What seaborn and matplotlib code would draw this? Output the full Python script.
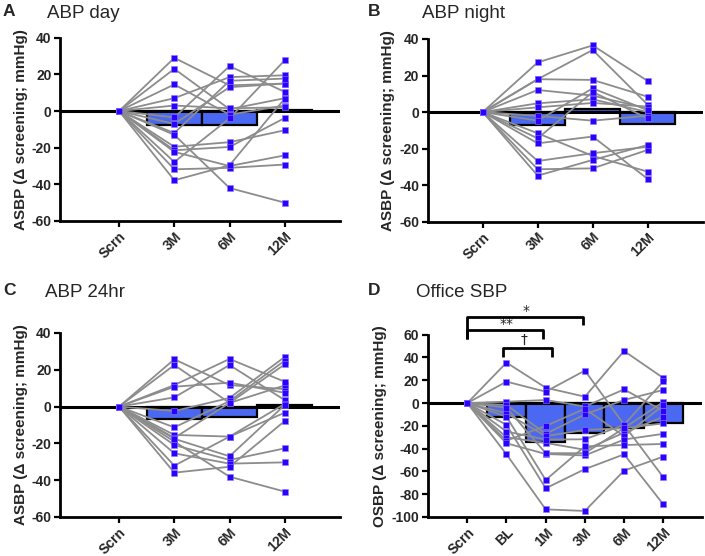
import numpy as np
import pandas as pd
import matplotlib
matplotlib.use("Agg")
import matplotlib.pyplot as plt
import seaborn as sns

sns.set_style("white")
plt.rcParams['font.family'] = ['Liberation Sans', 'DejaVu Sans']

# ---------------- data ----------------
cats_abp = ["Scrn", "3M", "6M", "12M"]
cats_office = ["Scrn", "BL", "1M", "3M", "6M", "12M"]

# group means (bars), for non-screening visits
bars_day = [-7.8, -7.6, 0.8]
bars_night = [-7.0, 1.5, -6.5]
bars_24 = [-6.9, -5.5, 0.9]
bars_office = [-11.8, -34.0, -26.5, -22.0, -17.3]

# individual subjects (values at each visit)
day_subjects = [
    [0, 29, 14, 15], [0, 23, 1, 7], [0, 14.5, -2, 3], [0, 7, 18.5, 19.5],
    [0, 3, 1.5, 2], [0, -3.5, 24.5, 10.4], [0, -7, 13, 15], [0, -12, 16.5, 17.7],
    [0, -13, -42, -50], [0, -19.5, -17, -10.5], [0, -21.4, -19.6, -3.8],
    [0, -22.3, -30, -24.2], [0, -27.8, -4, 27.7], [0, -31.8, -31, -29.2],
    [0, -37.8, -29.6, 6.8],
]
night_subjects = [
    [0, 27.2, 36.5, 17], [0, 18, 34, 4], [0, 18, 17.6, 8.4], [0, 12.1, 9, 2],
    [0, 4.8, 7, 0], [0, 2.6, 5, 3], [0, -2.1, -4.7, -2], [0, -4.7, 13, 1],
    [0, -11.6, -24, -32.6], [0, -14.4, 11, -3.4], [0, -17.1, -13.4, -36.6],
    [0, -26.8, -22.5, -19], [0, -31.3, -30.8, -20.7], [0, -34.8, -26.2, -18],
]
h24_subjects = [
    [0, 25.7, 11.7, 9.5], [0, 22.6, 2, 11.5], [0, 11.7, 25.9, 13.5],
    [0, 10.8, 13, 7.5], [0, 5, 22.6, 3.5], [0, -2.4, 4.7, 27], [0, -11.3, 3, 25],
    [0, -15.4, -16.3, -3.3], [0, -17, 2, 23], [0, -19, -38.1, -46.2],
    [0, -20.9, -29, -22.7], [0, -25.4, -31, -30.3], [0, -32.1, -16.3, 1.5],
    [0, -35.9, -32.7, -7.8], [0, -17.5, -27, 0.9],
]
office_subjects = [
    [0, 35.5, 13.5, 5.6, 45.7, 22], [0, 18.8, 10, 28.5, -19, 19],
    [0, 1.2, 2.7, -3, 12, -7], [0, -1.7, -27, -10, 2.7, 11.5],
    [0, -9, -29, -23.6, -22, 1], [0, -19.2, -74.8, -58, -45, -88.9],
    [0, -30, -35, -41, -26, -12], [0, -33, -20.1, -5, -29, -2],
    [0, -35.3, -44.7, -46, -32, -27], [0, -45, -93.3, -94.7, -59.3, -47],
    [0, -12, -67.5, -38, -36.8, -35.9], [0, -25, -32, -31.8, -19.2, -65.1],
    [0, -4, -44, -44, -22, -17.8],
]

BAR_COLOR = "#4a68f2"
PT_COLOR = "#2a00ff"
LINE_COLOR = "#8c8c8c"

fig = plt.figure(figsize=(7.05, 5.56), dpi=100)
W, H = 705, 556


def px_axes(l, t, r, b):
    return fig.add_axes([l / W, 1 - b / H, (r - l) / W, (b - t) / H])


def draw_panel(ax, cats, subjects, bars, ylim, yticks, ylabel, xlim):
    pos = list(range(len(cats)))
    rows = []
    for si, vals in enumerate(subjects):
        for p, v in zip(pos, vals):
            rows.append({"subject": si, "pos": p, "value": v})
    df = pd.DataFrame(rows)
    bar_df = pd.DataFrame({"pos": pos[1:], "value": bars})

    sns.barplot(data=bar_df, x="pos", y="value", native_scale=True, orient="x",
                width=1.0, color=BAR_COLOR, edgecolor="black", linewidth=1.6,
                errorbar=None, saturation=1, ax=ax, zorder=1)
    ax.axhline(0, color="black", lw=2.2, zorder=2)
    sns.lineplot(data=df, x="pos", y="value", units="subject", estimator=None,
                 color=LINE_COLOR, lw=1.3, sort=False, ax=ax, zorder=3)
    sns.scatterplot(data=df, x="pos", y="value", marker="s", s=18,
                    color=PT_COLOR, edgecolor="#8a7cff", linewidth=0.4,
                    ax=ax, zorder=4)

    ax.set_xlim(*xlim)
    ax.set_ylim(*ylim)
    ax.set_yticks(yticks)
    ax.set_yticklabels([str(t) for t in yticks], fontsize=10, fontweight="bold")
    ax.set_xticks(pos)
    ax.set_xticklabels(cats, rotation=45, ha="right", rotation_mode="anchor",
                       fontsize=10, fontweight="bold")
    ax.set_xlabel("")
    ax.set_ylabel(ylabel, fontsize=11, fontweight="bold", labelpad=3)
    for s in ["top", "right"]:
        ax.spines[s].set_visible(False)
    for s in ["left", "bottom"]:
        ax.spines[s].set_linewidth(2.0)
        ax.spines[s].set_color("black")
    ax.tick_params(axis="both", direction="out", length=4, width=1.6,
                   color="black", pad=2, left=True, bottom=True)
    ax.grid(False)


axA = px_axes(60, 37.7, 340, 221)
draw_panel(axA, cats_abp, day_subjects, bars_day, (-60, 40), list(range(-60, 41, 20)),
           "ASBP (\u0394 screening; mmHg)", (-1.07, 4.0))
axB = px_axes(427.7, 39, 702.7, 221.7)
draw_panel(axB, cats_abp, night_subjects, bars_night, (-60, 40), list(range(-60, 41, 20)),
           "ASBP (\u0394 screening; mmHg)", (-1.0, 4.0))
axC = px_axes(60, 333, 340, 517)
draw_panel(axC, cats_abp, h24_subjects, bars_24, (-60, 40), list(range(-60, 41, 20)),
           "ASBP (\u0394 screening; mmHg)", (-1.07, 4.0))
axD = px_axes(427.7, 334.7, 701.7, 517)
draw_panel(axD, cats_office, office_subjects, bars_office, (-100, 60),
           list(range(-100, 61, 20)), "OSBP (\u0394 screening; mmHg)", (-1.01, 5.98))

# significance brackets (panel D)
def bracket(ax, x0, x1, y, yl0, yl1, label, ty, tx):
    ax.plot([x0, x0, x1, x1], [yl0, y, y, yl1], color="black", lw=2.0,
            clip_on=False, solid_capstyle="butt", zorder=5)
    ax.text(tx, ty, label, ha="center", va="center", fontsize=10,
            clip_on=False, family=["DejaVu Sans"])

bracket(axD, 0, 2.94, 75.3, 56, 68.5, "*", 80.5, 1.5)
bracket(axD, 0, 1.92, 63.9, 56, 56, "**", 69.0, 1.0)
bracket(axD, 0.9, 2.15, 48.4, 40.5, 40.5, "\u2020", 55.5, 1.45)

# panel letters and titles
for (lx, ly, letter, tx, title) in [
    (3, 4, "A", 47, "ABP day"),
    (368, 4, "B", 422, "ABP night"),
    (3, 283, "C", 45, "ABP 24hr"),
    (368, 283, "D", 416, "Office SBP"),
]:
    fig.text(lx / W, 1 - ly / H, letter, fontsize=12.5, fontweight="bold", va="top", ha="left")
    fig.text(tx / W, 1 - (ly + 1) / H, title, fontsize=13.5, va="top", ha="left")

fig.savefig("out.png", dpi=100)
